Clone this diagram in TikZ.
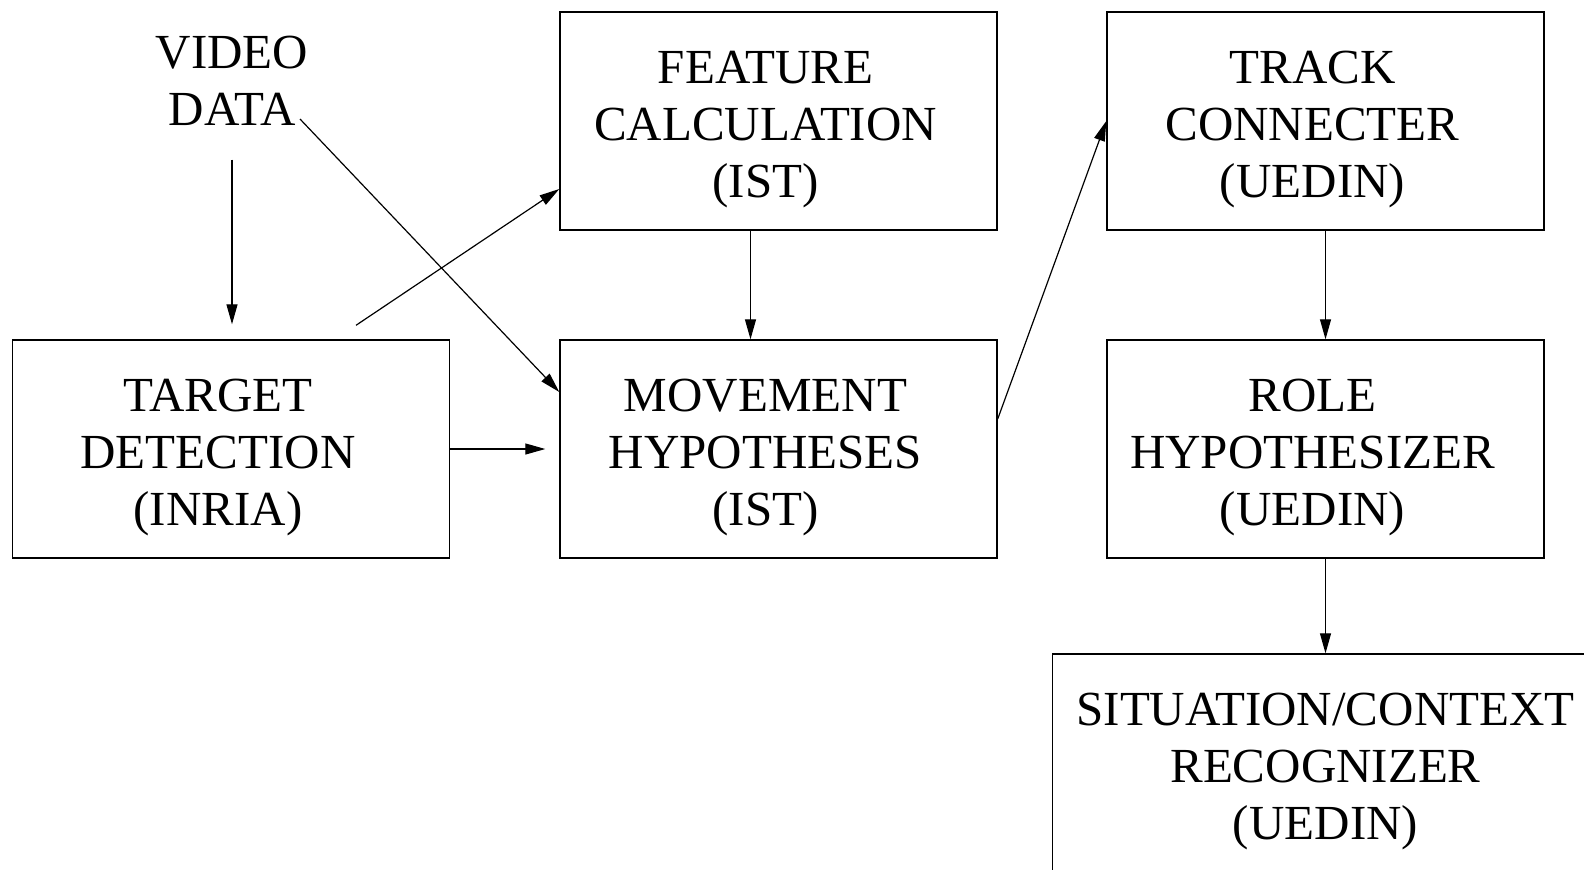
\documentclass[tikz,border=0pt]{standalone}
\usepackage{fontspec}
\setmainfont{Liberation Serif}
\usetikzlibrary{arrows.meta}
\begin{document}
\begin{tikzpicture}[x=0.5pt,y=-0.5pt,
  block/.style={draw, line width=0.7pt, minimum width=218.5pt, minimum height=109pt, inner sep=0pt, align=center, font=\fontsize{24.5}{28.5}\selectfont},
  box/.style={block, text width=200pt, execute at begin node={\rule{0pt}{24.5pt}\advance\rightskip13pt}},
  bigbox/.style={block, minimum width=273pt, text width=260pt, execute at begin node={\rule{0pt}{24.5pt}}},
  arr/.style={-{Triangle[length=10pt,width=5.5pt]}, line width=0.6pt}]
\useasboundingbox (0,0) rectangle (1584,869);
\node[box] (target) at (231,449) {TARGET\\DETECTION\\(INRIA)};
\node[box] (movement) at (778.5,449) {MOVEMENT\\HYPOTHESES\\(IST)};
\node[box] (feature) at (778.5,121) {FEATURE\\CALCULATION\\(IST)};
\node[box] (track) at (1325.5,121) {TRACK\\CONNECTER\\(UEDIN)};
\node[box] (role) at (1325.5,449) {ROLE\\HYPOTHESIZER\\(UEDIN)};
\node[bigbox] (situation) at (1325.5,763) {SITUATION/CONTEXT\\RECOGNIZER\\(UEDIN)};
\node[align=center, inner sep=0pt, font=\fontsize{24.5}{28.5}\selectfont] (video) at (232,80.5) {VIDEO\\DATA};
\coordinate (datatail) at (300,119);
\draw[arr, shorten <=17pt, shorten >=7.5pt] (video.south) -- (video.south |- target.north);
\draw[arr] (datatail) -- ([yshift=28.5pt]movement.west);
\draw[arr] ([xshift=62.5pt,yshift=7pt]target.north) -- ([yshift=-34pt]feature.west);
\draw[arr, shorten >=7pt] (target.east) -- (movement.west);
\draw[arr] ([xshift=-14pt]feature.south) -- ([xshift=-14pt]movement.north);
\draw[arr] ([yshift=15pt]movement.east) -- (track.west);
\draw[arr] (track.south) -- (role.north);
\draw[arr] (role.south) -- (situation.north);
\end{tikzpicture}
\end{document}
